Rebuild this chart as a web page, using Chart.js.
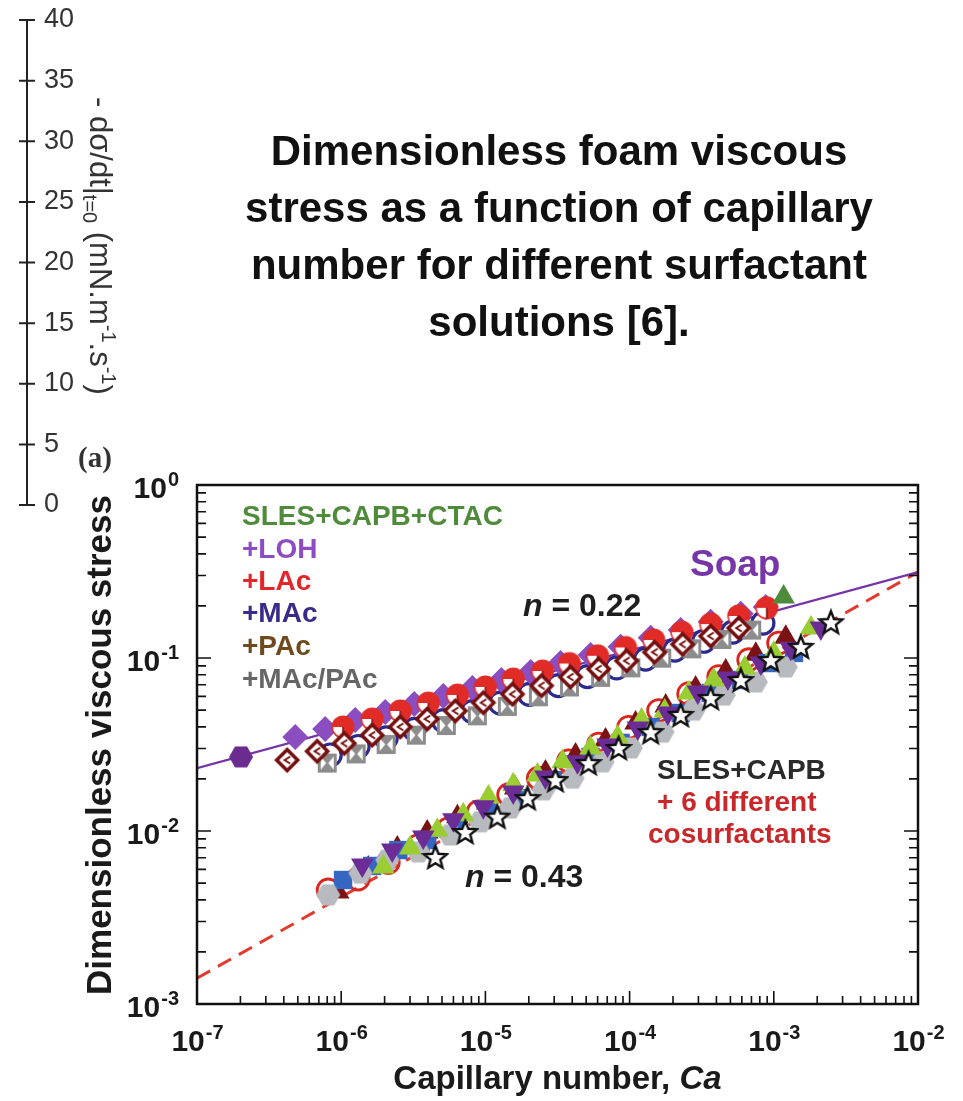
<!DOCTYPE html>
<html>
<head>
<meta charset="utf-8">
<script src="https://cdn.jsdelivr.net/npm/chart.js@4.4.1/dist/chart.umd.min.js"></script>
<style>
html, body { margin: 0; padding: 0; background: #fff; }
#wrap { position: relative; width: 963px; height: 1101px; overflow: hidden; }
#stressChart, #rateChart { position: absolute; left: 0; top: 0; }
#title {
    position: absolute; left: 559px; top: 122px; transform: translateX(-50%);
    font: bold 42px "Liberation Sans", Arial, sans-serif; line-height: 57px;
    text-align: center; white-space: nowrap; color: #111;
}
</style>
</head>
<body>
<div id="wrap">
    <canvas id="stressChart" width="963" height="1101"></canvas>
    <canvas id="rateChart" width="150" height="520"></canvas>
    <div id="title">Dimensionless foam viscous<br>stress as a function of capillary<br>number for different surfactant<br>solutions [6].</div>
</div>
<script>
const FONT = '"Liberation Sans", Arial, sans-serif';

// axis ticks
const CA_TICKS = [1e-7, 1e-6, 1e-5, 1e-4, 1e-3, 1e-2];
const CA_TICK_EXP = ['-7', '-6', '-5', '-4', '-3', '-2'];
const STRESS_TICKS = [1e-3, 1e-2, 1e-1, 1];
const STRESS_TICK_EXP = ['-3', '-2', '-1', '0'];
const MINOR_STEPS = [2, 3, 4, 5, 6, 7, 8, 9];
const RATE_TICKS = [0, 5, 10, 15, 20, 25, 30, 35, 40];

// power-law fits (end points at the plot edges)
const FIT_CA = [1e-7, 1e-2];
const SOAP_FIT = [0.0231, 0.314];
const MIX_FIT = [0.00141, 0.314];

// soap-like solutions
const soapCa = [2.02e-7];
const soapStress = [0.0268];
const ctacCa = [1.17e-3];
const ctacStress = [0.225];
const lohCa = [4.80e-7, 7.74e-7, 1.25e-6, 2.02e-6, 3.21e-6, 5.10e-6, 8.12e-6, 1.29e-5, 2.06e-5, 3.32e-5, 5.36e-5, 8.66e-5, 1.40e-4, 2.26e-4, 3.65e-4, 5.90e-4, 8.79e-4];
const lohStress = [0.0349, 0.0389, 0.0438, 0.0488, 0.0542, 0.0603, 0.0671, 0.0746, 0.0830, 0.0936, 0.104, 0.116, 0.131, 0.145, 0.162, 0.180, 0.197];
const lacCa = [1.03e-6, 1.64e-6, 2.57e-6, 4.02e-6, 6.40e-6, 1.00e-5, 1.56e-5, 2.49e-5, 3.83e-5, 6.00e-5, 9.37e-5, 1.47e-4, 2.30e-4, 3.65e-4, 5.71e-4, 8.93e-4];
const lacStress = [0.0399, 0.0444, 0.0494, 0.0549, 0.0611, 0.0680, 0.0756, 0.0841, 0.0929, 0.103, 0.115, 0.127, 0.141, 0.157, 0.175, 0.195];
const macCa = [8.39e-7, 1.31e-6, 2.05e-6, 3.21e-6, 5.10e-6, 8.12e-6, 1.27e-5, 2.02e-5, 3.21e-5, 5.10e-5, 8.13e-5, 1.29e-4, 2.06e-4, 3.27e-4, 5.19e-4, 8.40e-4];
const macStress = [0.0275, 0.0308, 0.0345, 0.0387, 0.0435, 0.0490, 0.0548, 0.0617, 0.0692, 0.0780, 0.0877, 0.0986, 0.111, 0.125, 0.141, 0.159];
const pacCa = [4.22e-7, 6.81e-7, 1.05e-6, 1.64e-6, 2.57e-6, 3.95e-6, 6.19e-6, 9.68e-6, 1.54e-5, 2.45e-5, 3.89e-5, 6.10e-5, 9.53e-5, 1.49e-4, 2.33e-4, 3.65e-4, 5.71e-4];
const pacStress = [0.0257, 0.0289, 0.0321, 0.0358, 0.0400, 0.0444, 0.0495, 0.0552, 0.0618, 0.0692, 0.0776, 0.0865, 0.0964, 0.108, 0.120, 0.134, 0.149];
const macPacCa = [8.00e-7, 1.27e-6, 2.05e-6, 3.32e-6, 5.36e-6, 8.79e-6, 1.42e-5, 2.33e-5, 3.83e-5, 6.29e-5, 1.02e-4, 1.67e-4, 2.70e-4, 4.36e-4, 7.03e-4];
const macPacStress = [0.0247, 0.0279, 0.0316, 0.0358, 0.0407, 0.0463, 0.0525, 0.0597, 0.0680, 0.0773, 0.0877, 0.0998, 0.113, 0.128, 0.145];

// SLES+CAPB with cosurfactants
const hexCa = [8.13e-7, 1.36e-6, 2.09e-6, 3.43e-6, 5.71e-6, 9.23e-6, 1.49e-5, 2.53e-5, 4.02e-5, 6.49e-5, 1.02e-4, 1.69e-4, 2.78e-4, 4.50e-4, 7.50e-4, 1.21e-3];
const hexStress = [4.27e-3, 5.71e-3, 6.79e-3, 7.57e-3, 9.48e-3, 1.13e-2, 1.36e-2, 1.73e-2, 2.02e-2, 2.51e-2, 3.02e-2, 3.73e-2, 5.00e-2, 6.11e-2, 7.26e-2, 8.87e-2];
const squareCa = [1.03e-6, 1.64e-6, 2.49e-6, 3.95e-6, 6.39e-6, 1.05e-5, 1.69e-5, 2.92e-5, 5.36e-5, 8.66e-5, 1.40e-4, 2.26e-4, 3.65e-4, 5.90e-4, 9.08e-4, 1.38e-3];
const squareStress = [5.21e-3, 6.28e-3, 7.76e-3, 8.87e-3, 1.05e-2, 1.27e-2, 1.55e-2, 1.97e-2, 2.68e-2, 3.23e-2, 3.99e-2, 4.81e-2, 6.28e-2, 7.46e-2, 9.35e-2, 0.107];
const downTriCa = [1.40e-6, 2.26e-6, 3.71e-6, 6.00e-6, 9.68e-6, 1.56e-5, 2.61e-5, 4.35e-5, 7.03e-5, 1.14e-4, 1.84e-4, 2.97e-4, 4.80e-4, 8.13e-4, 1.31e-3, 2.12e-3];
const downTriStress = [6.35e-3, 7.76e-3, 9.23e-3, 1.16e-2, 1.38e-2, 1.68e-2, 2.05e-2, 2.51e-2, 3.14e-2, 3.94e-2, 4.81e-2, 6.35e-2, 7.66e-2, 9.35e-2, 0.114, 0.149];
const upTriCa = [1.96e-6, 3.01e-6, 4.64e-6, 7.03e-6, 1.05e-5, 1.56e-5, 2.30e-5, 3.43e-5, 5.36e-5, 8.25e-5, 1.21e-4, 1.75e-4, 2.57e-4, 3.83e-4, 6.29e-4, 1.00e-3, 1.81e-3];
const upTriStress = [6.19e-3, 7.98e-3, 1.01e-2, 1.24e-2, 1.57e-2, 1.85e-2, 2.11e-2, 2.51e-2, 3.02e-2, 3.49e-2, 4.38e-2, 4.94e-2, 6.28e-2, 7.46e-2, 8.75e-2, 0.107, 0.149];
const starCa = [4.50e-6, 7.26e-6, 1.21e-5, 1.96e-5, 3.06e-5, 5.19e-5, 8.39e-5, 1.40e-4, 2.26e-4, 3.65e-4, 5.90e-4, 9.53e-4, 1.54e-3, 2.49e-3];
const starStress = [7.08e-3, 9.87e-3, 1.21e-2, 1.55e-2, 1.97e-2, 2.47e-2, 3.02e-2, 3.73e-2, 4.69e-2, 5.87e-2, 7.46e-2, 9.73e-2, 0.116, 0.161];
const darkTriCa = [9.53e-7, 1.54e-6, 2.45e-6, 3.95e-6, 6.39e-6, 1.03e-5, 1.61e-5, 2.61e-5, 4.22e-5, 6.81e-5, 1.10e-4, 1.78e-4, 2.87e-4, 4.64e-4, 7.50e-4, 1.21e-3];
const darkTriStress = [4.44e-3, 6.11e-3, 7.98e-3, 9.87e-3, 1.21e-2, 1.45e-2, 1.77e-2, 2.19e-2, 2.75e-2, 3.36e-2, 4.21e-2, 5.28e-2, 6.71e-2, 8.41e-2, 0.105, 0.132];
const ringCa = [8.13e-7, 1.31e-6, 2.12e-6, 3.43e-6, 5.53e-6, 8.93e-6, 1.45e-5, 2.33e-5, 3.77e-5, 6.10e-5, 9.84e-5, 1.59e-4, 2.57e-4, 4.15e-4, 6.70e-4, 1.08e-3];
const ringStress = [4.56e-3, 5.28e-3, 6.58e-3, 8.24e-3, 1.03e-2, 1.29e-2, 1.62e-2, 2.02e-2, 2.54e-2, 3.18e-2, 3.97e-2, 4.97e-2, 6.22e-2, 7.80e-2, 9.77e-2, 0.122];

function pts(xs, ys) {
    return xs.map((x, i) => ({ x: x, y: ys[i] }));
}

// small offscreen canvases used as point styles
function marker(size, draw) {
    const c = document.createElement('canvas');
    c.width = size;
    c.height = size;
    draw(c.getContext('2d'), size / 2);
    return c;
}

function polygon(g, cx, cy, r, n, start) {
    g.beginPath();
    for (let i = 0; i < n; i++) {
        const a = start + i * 2 * Math.PI / n;
        g.lineTo(cx + r * Math.cos(a), cy + r * Math.sin(a));
    }
    g.closePath();
}

function hexagon(color, r) {
    return marker(2 * r + 2, (g, c) => {
        polygon(g, c, c, r, 6, 0);
        g.fillStyle = color;
        g.fill();
    });
}

const halfCircle = marker(26, (g, c) => {
    g.beginPath(); g.arc(c, c, 11.5, 0, 2 * Math.PI);
    g.fillStyle = '#e12b27'; g.fill();
    g.beginPath(); g.moveTo(c, c); g.arc(c, c, 10, Math.PI / 2, Math.PI); g.closePath();
    g.fillStyle = '#fff'; g.fill();
    g.beginPath(); g.moveTo(c, c); g.lineTo(c, c + 11);
    g.strokeStyle = '#8a1010'; g.lineWidth = 1.6; g.stroke();
});

const openDiamond = marker(28, (g, c) => {
    polygon(g, c, c, 13, 4, 0);
    g.fillStyle = '#74100f'; g.fill();
    polygon(g, c, c, 8, 4, 0);
    g.fillStyle = '#fff'; g.fill();
    g.beginPath(); g.moveTo(c + 3, c - 3.5); g.lineTo(c - 2.5, c); g.lineTo(c + 3, c + 3.5);
    g.strokeStyle = '#74100f'; g.lineWidth = 2; g.stroke();
});

const hourglass = marker(21, (g, c) => {
    g.fillStyle = '#8c8c8c'; g.fillRect(1, 1, 19, 19);
    g.fillStyle = '#fff';
    g.beginPath(); g.moveTo(4, 4); g.lineTo(c - 1, c); g.lineTo(4, 17); g.closePath(); g.fill();
    g.beginPath(); g.moveTo(17, 4); g.lineTo(c + 1, c); g.lineTo(17, 17); g.closePath(); g.fill();
});

const openStar = marker(28, (g, c) => {
    g.beginPath();
    for (let i = 0; i < 10; i++) {
        const r = i % 2 === 0 ? 12 : 5.2;
        const a = -Math.PI / 2 + i * Math.PI / 5;
        g.lineTo(c + r * Math.cos(a), c + 1 + r * Math.sin(a));
    }
    g.closePath();
    g.fillStyle = '#fff'; g.fill();
    g.strokeStyle = '#111'; g.lineWidth = 2.4; g.stroke();
});

function series(xs, ys, style, extra) {
    return Object.assign({ data: pts(xs, ys), pointStyle: style, pointRadius: 12, borderWidth: 0 }, extra);
}

function fitLine(ys, color, dash, width) {
    return {
        data: pts(FIT_CA, ys), showLine: true, pointRadius: 0, order: 20,
        borderColor: color, borderWidth: width, borderDash: dash
    };
}

function drawPow(ctx, exp, x, baseY, align) {
    ctx.font = 'bold 30px ' + FONT;
    const wBase = ctx.measureText('10').width;
    ctx.font = 'bold 20px ' + FONT;
    const wExp = ctx.measureText(exp).width;
    const left = align === 'center' ? x - (wBase + wExp) / 2 : x - wBase - wExp;
    ctx.textAlign = 'left';
    ctx.textBaseline = 'alphabetic';
    ctx.font = 'bold 30px ' + FONT;
    ctx.fillText('10', left, baseY);
    ctx.font = 'bold 20px ' + FONT;
    ctx.fillText(exp, left + wBase + 1, baseY - 12);
}

// text drawn left to right out of [text, font, colour] parts
function drawParts(ctx, parts, x, y) {
    ctx.textAlign = 'left';
    ctx.textBaseline = 'middle';
    parts.forEach(p => {
        ctx.font = p[1];
        ctx.fillStyle = p[2];
        ctx.fillText(p[0], x, y);
        x += ctx.measureText(p[0]).width;
    });
}

const plotDecorations = {
    id: 'plotDecorations',
    afterDatasetsDraw(chart) {
        const ctx = chart.ctx;
        const a = chart.chartArea;
        const x = chart.scales.x;
        const y = chart.scales.y;
        ctx.save();

        ctx.strokeStyle = '#111';
        ctx.lineWidth = 2.5;
        ctx.strokeRect(a.left, a.top, a.right - a.left, a.bottom - a.top);

        // inward ticks on bottom, left and right
        ctx.lineWidth = 1.6;
        ctx.beginPath();
        CA_TICKS.forEach((v, i) => {
            const px = x.getPixelForValue(v);
            ctx.moveTo(px, a.bottom); ctx.lineTo(px, a.bottom - 13);
            if (i < CA_TICKS.length - 1) {
                MINOR_STEPS.forEach(m => {
                    const mx = x.getPixelForValue(v * m);
                    ctx.moveTo(mx, a.bottom); ctx.lineTo(mx, a.bottom - 8);
                });
            }
        });
        STRESS_TICKS.forEach((v, i) => {
            const py = y.getPixelForValue(v);
            ctx.moveTo(a.left, py); ctx.lineTo(a.left + 14, py);
            ctx.moveTo(a.right, py); ctx.lineTo(a.right - 14, py);
            if (i < STRESS_TICKS.length - 1) {
                MINOR_STEPS.forEach(m => {
                    const my = y.getPixelForValue(v * m);
                    ctx.moveTo(a.left, my); ctx.lineTo(a.left + 9, my);
                    ctx.moveTo(a.right, my); ctx.lineTo(a.right - 9, my);
                });
            }
        });
        ctx.stroke();

        ctx.fillStyle = '#1a1a1a';
        CA_TICKS.forEach((v, i) => drawPow(ctx, CA_TICK_EXP[i], x.getPixelForValue(v), a.bottom + 47, 'center'));
        STRESS_TICKS.forEach((v, i) => drawPow(ctx, STRESS_TICK_EXP[i], a.left - 19, y.getPixelForValue(v) + 13, 'right'));

        // axis titles
        const titleFont = 'bold 33px ' + FONT;
        const titleItalic = 'bold italic 33px ' + FONT;
        ctx.font = titleFont;
        const head = 'Capillary number, ';
        const wHead = ctx.measureText(head).width;
        ctx.font = titleItalic;
        const wCa = ctx.measureText('Ca').width;
        drawParts(ctx, [[head, titleFont, '#1a1a1a'], ['Ca', titleItalic, '#1a1a1a']],
            (a.left + a.right) / 2 - (wHead + wCa) / 2, 1080);

        ctx.save();
        ctx.translate(101, 745);
        ctx.rotate(-Math.PI / 2);
        ctx.font = 'bold 35px ' + FONT;
        ctx.fillStyle = '#1a1a1a';
        ctx.textAlign = 'center';
        ctx.textBaseline = 'middle';
        ctx.fillText('Dimensionless viscous stress', 0, 0);
        ctx.restore();

        ctx.font = 'bold 29px "Liberation Serif", "Times New Roman", serif';
        ctx.fillStyle = '#333';
        ctx.textAlign = 'left';
        ctx.textBaseline = 'middle';
        ctx.fillText('(a)', 78, 460);

        // series names inside the plot
        const legendFont = 'bold 28px ' + FONT;
        [['SLES+CAPB+CTAC', '#4f8b3b', 517], ['+LOH', '#8e4cc4', 550], ['+LAc', '#e2262a', 582],
         ['+MAc', '#3b2a8a', 614], ['+PAc', '#6e4a1e', 647], ['+MAc/PAc', '#666', 680]]
            .forEach(t => drawParts(ctx, [[t[0], legendFont, t[1]]], 242, t[2]));

        const big = 'bold 28px ' + FONT;
        const nFont = 'bold 32px ' + FONT;
        const nItalic = 'bold italic 32px ' + FONT;
        drawParts(ctx, [['Soap', 'bold 37px ' + FONT, '#7636a8']], 690, 566);
        drawParts(ctx, [['n', nItalic, '#1e1e1e'], [' = 0.22', nFont, '#1e1e1e']], 523, 607);
        drawParts(ctx, [['n', nItalic, '#1e1e1e'], [' = 0.43', nFont, '#1e1e1e']], 465, 878);
        drawParts(ctx, [['SLES+CAPB', big, '#2a2a2a']], 657, 771);
        drawParts(ctx, [['+ 6 different', big, '#c9282a']], 657, 803);
        drawParts(ctx, [['cosurfactants', big, '#c9282a']], 648, 835);

        ctx.restore();
    }
};

new Chart(document.getElementById('stressChart'), {
    type: 'scatter',
    data: {
        datasets: [
            fitLine(SOAP_FIT, '#7434a6', [], 2.2),
            fitLine(MIX_FIT, '#e23a2c', [15, 9], 3),
            // soap solutions
            series(macCa, macStress, 'circle', { pointRadius: 11, borderWidth: 3.2, borderColor: '#2c2a8e', backgroundColor: '#fff', order: 12 }),
            series(lohCa, lohStress, 'rectRot', { pointRadius: 13, backgroundColor: '#8b4ec1', order: 11 }),
            series(soapCa, soapStress, hexagon('#6a2c8f', 12), { order: 10 }),
            series(lacCa, lacStress, halfCircle, { order: 9 }),
            series(macPacCa, macPacStress, hourglass, { order: 8 }),
            series(pacCa, pacStress, openDiamond, { order: 7 }),
            series(ctacCa, ctacStress, 'triangle', { pointRadius: 13, backgroundColor: '#4e8b3a', order: 6 }),
            // SLES+CAPB + cosurfactants
            series(ringCa, ringStress, 'circle', { pointRadius: 11, borderWidth: 2.8, borderColor: '#d9271f', backgroundColor: 'rgba(0,0,0,0)', order: 19 }),
            series(darkTriCa, darkTriStress, 'triangle', { pointRadius: 13, backgroundColor: '#7b1214', order: 18 }),
            series(squareCa, squareStress, 'rect', { pointRadius: 13, backgroundColor: '#3566c2', order: 17 }),
            series(hexCa, hexStress, hexagon('#b7babe', 12), { order: 16 }),
            series(upTriCa, upTriStress, 'triangle', { pointRadius: 13, backgroundColor: '#9acd32', order: 15 }),
            series(downTriCa, downTriStress, 'triangle', { pointRadius: 13, rotation: 180, backgroundColor: '#6b2c96', order: 14 }),
            series(starCa, starStress, openStar, { order: 13 })
        ]
    },
    options: {
        responsive: false,
        animation: false,
        layout: { padding: { left: 197, top: 485, right: 45, bottom: 97 } },
        scales: {
            x: { type: 'logarithmic', min: 1e-7, max: 1e-2, display: false },
            y: { type: 'logarithmic', min: 1e-3, max: 1, display: false }
        },
        plugins: { legend: { display: false }, tooltip: { enabled: false } }
    },
    plugins: [plotDecorations]
});

// the 0-40 axis on the upper left
const rateAxis = {
    id: 'rateAxis',
    afterDraw(chart) {
        const ctx = chart.ctx;
        const y = chart.scales.y;
        const x0 = chart.chartArea.left;
        ctx.save();
        ctx.strokeStyle = '#222';
        ctx.lineWidth = 2;
        ctx.beginPath();
        ctx.moveTo(x0, y.getPixelForValue(40));
        ctx.lineTo(x0, y.getPixelForValue(0));
        RATE_TICKS.forEach(v => {
            const py = y.getPixelForValue(v);
            ctx.moveTo(x0 - 8, py);
            ctx.lineTo(x0 + 8, py);
        });
        ctx.stroke();

        ctx.fillStyle = '#333';
        ctx.font = '27px ' + FONT;
        ctx.textAlign = 'left';
        ctx.textBaseline = 'middle';
        RATE_TICKS.forEach(v => ctx.fillText(String(v), x0 + 17, y.getPixelForValue(v)));

        // rotated quantity label, read top to bottom
        ctx.translate(101, 97);
        ctx.rotate(Math.PI / 2);
        const main = '31px ' + FONT;
        const small = '20px ' + FONT;
        const parts = [['- d\u03c3/dt', main, 11], ['|', main, 11], ['t=0', small, 18], [' (mN.m', main, 11],
            ['-1', small, -1], ['.s', main, 11], ['-1', small, -1], [')', main, 11]];
        let cx = 0;
        ctx.textBaseline = 'alphabetic';
        parts.forEach(p => {
            ctx.font = p[1];
            ctx.fillText(p[0], cx, p[2]);
            cx += ctx.measureText(p[0]).width;
        });
        ctx.restore();
    }
};

new Chart(document.getElementById('rateChart'), {
    type: 'scatter',
    data: { datasets: [] },
    options: {
        responsive: false,
        animation: false,
        layout: { padding: { left: 27, top: 20, right: 122, bottom: 15 } },
        scales: {
            x: { min: 0, max: 1, display: false },
            y: { min: 0, max: 40, display: false }
        },
        plugins: { legend: { display: false }, tooltip: { enabled: false } }
    },
    plugins: [rateAxis]
});
</script>
</body>
</html>
